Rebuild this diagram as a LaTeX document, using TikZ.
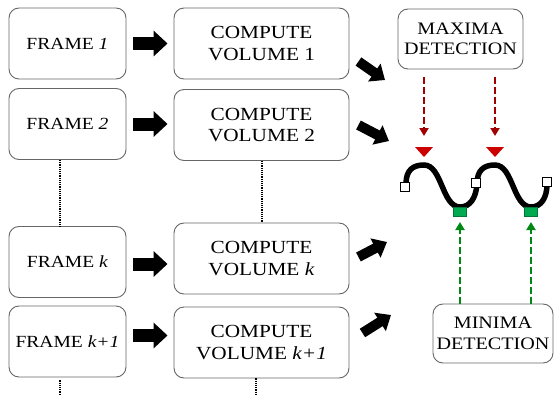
\documentclass[tikz,border=0pt]{standalone}
\usepackage{fontspec}
\setmainfont{Liberation Serif}[FakeStretch=1.15]
\usepackage{tikz}
\usetikzlibrary{arrows.meta,calc,positioning}
\usepackage{xcolor}

\definecolor{maxred}{RGB}{160,0,0}
\definecolor{maxtri}{RGB}{205,0,0}
\definecolor{mingreen}{RGB}{0,135,20}
\definecolor{minsq}{RGB}{0,170,80}

\begin{document}
\begin{tikzpicture}[x=1pt,y=-1pt,
  box/.style={draw=black!60,line width=0.9pt,rounded corners=10pt,align=center,inner sep=0pt},
  framebox/.style={box,minimum width=117pt,minimum height=71pt,font=\fontsize{17}{21}\selectfont},
  volbox/.style={box,minimum width=175pt,minimum height=71pt,font=\fontsize{18.5}{21.5}\selectfont},
  detbox/.style={box,minimum height=60pt,font=\fontsize{17.5}{20.5}\selectfont},
  flowarrow/.style={line width=13pt,-{Triangle[length=14pt,width=25pt]}},
  slantarrow/.style={line width=10pt,-{Triangle[length=13pt,width=21pt]}},
  gap/.style={densely dotted,line width=1.2pt},
  maxarrow/.style={maxred,line width=2.6pt,dash pattern=on 7pt off 3pt,-{Triangle[length=8pt,width=9pt]}},
  minarrow/.style={mingreen,line width=2.6pt,dash pattern=on 7pt off 3pt,-{Triangle[length=8pt,width=9pt]}},
  handle/.style={draw,fill=white,line width=1.8pt,minimum size=9pt,inner sep=0pt},
  trough/.style={draw=minsq!70!black,line width=0.5pt,fill=minsq,minimum width=13pt,minimum height=9pt,inner sep=0pt}
]
  \useasboundingbox (0,0) rectangle (554,396);

  % --- frames ---
  \node[framebox] (f1)  at (67.5,43.5)  {FRAME \textit{1}};
  \node[framebox] (f2)  at (67.5,124)   {FRAME \textit{2}};
  \node[framebox] (fk)  at (67.5,262)   {FRAME \textit{k}};
  \node[framebox] (fk1) at (67.5,341.5) {FRAME \textit{k+1}};

  % --- volume computation ---
  \node[volbox] (c1)  at (261.5,43.5)  {COMPUTE\\VOLUME 1};
  \node[volbox] (c2)  at (261.5,125)   {COMPUTE\\VOLUME 2};
  \node[volbox] (ck)  at (261.5,258.5) {COMPUTE\\VOLUME \textit{k}};
  \node[volbox] (ck1) at (261.5,342.5) {COMPUTE\\VOLUME \textit{k+1}};

  % --- detectors ---
  \node[detbox,minimum width=125pt] (maxima) at (460.5,39) {MAXIMA\\DETECTION};
  \node[detbox,minimum width=120pt,minimum height=59pt] (minima) at (493,333.5) {MINIMA\\DETECTION};

  % frame -> volume
  \draw[flowarrow] ($(f1.east)+(7,0)$)  -- ($(c1.west |- f1.east)+(-6,0)$);
  \draw[flowarrow] ($(f2.east)+(7,0)$)  -- ($(c2.west |- f2.east)+(-6,0)$);
  \draw[flowarrow] ($(fk.east)+(7,2)$)  -- ($(ck.west |- fk.east)+(-6,2)$);
  \draw[flowarrow] ($(fk1.east)+(7,-6)$) -- ($(ck1.west |- fk1.east)+(-6,-6)$);

  % skipped frames
  \coordinate (fend) at (60,396);
  \coordinate (cend) at (256,396);
  \draw[gap] ($(f2.south)+(-7.5,0)$) -- ($(fk.north)+(-7.5,0)$);
  \draw[gap] ($(c2.south)+(0.5,0)$) -- ($(ck.north)+(0.5,0)$);
  \draw[gap] ($(fk1.south -| fend)+(0,3)$) -- (fend);
  \draw[gap] (ck1.south -| cend) -- (cend);

  % --- volume curve ---
  \coordinate (p1) at (424,165);
  \coordinate (p2) at (495,165);
  \draw[line width=5.5pt]
       (406,184) .. controls (406,170) and (413,165) .. (p1)
    .. controls (442,165) and (442,207) .. (460,207)
    .. controls (470,207) and (476,198) .. (477,184)
    .. controls (477,170) and (484,165) .. (p2)
    .. controls (513,165) and (513,207) .. (531,207)
    .. controls (541,207) and (547,198) .. (547,184);
  \node[handle] (h1) at (405,187) {};
  \node[handle] (h2) at (476,183) {};
  \node[handle] (h3) at (547,182) {};
  \node[trough] (t1) at (460,212) {};
  \node[trough] (t2) at (531,212) {};

  % volumes -> curve
  \coordinate (a1) at (385,80);
  \coordinate (a2) at (389,141);
  \coordinate (a3) at (387,242);
  \coordinate (a4) at (391,315);
  \draw[slantarrow] ($(c1.east)+(9,18)$)   -- (a1);
  \draw[slantarrow] ($(c2.east)+(9,0)$)    -- (a2);
  \draw[slantarrow] ($(ck.east)+(9,-1.5)$) -- (a3);
  \draw[slantarrow] ($(ck1.east)+(13,-9.5)$) -- (a4);

  % maxima markers
  \foreach \p in {p1,p2}{%
    \fill[maxtri] ($(\p)+(-9,-18)$) -- ($(\p)+(9,-18)$) -- ($(\p)+(0,-8)$) -- cycle;
    \draw[maxarrow] ($(maxima.south -| \p)+(0,8)$) -- ($(\p)+(0,-29)$);
  }
  % minima markers
  \foreach \t in {t1,t2}{%
    \draw[minarrow] (minima.north -| \t) -- ($(\t)+(0,10)$);
  }
\end{tikzpicture}
\end{document}
